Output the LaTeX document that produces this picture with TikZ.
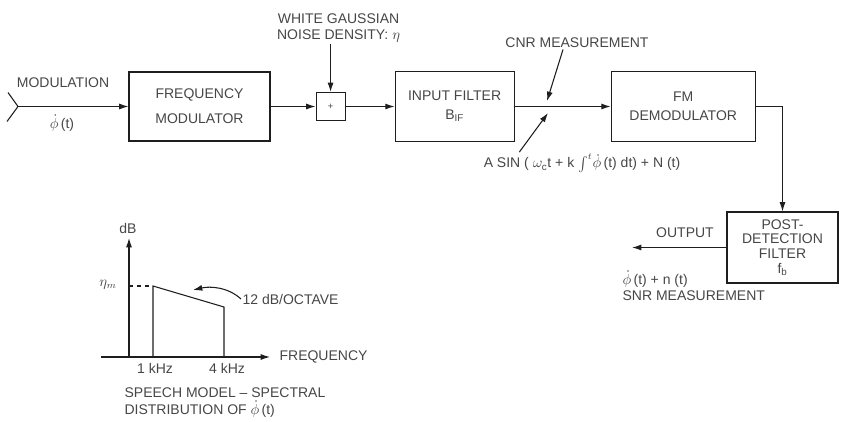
\documentclass[tikz,border=0pt]{standalone}
\usepackage{amsmath}
\usepackage{fontspec}
\setmainfont{Liberation Sans}
\usetikzlibrary{arrows.meta,positioning}
\definecolor{inkblack}{RGB}{30,30,30}
\definecolor{textgray}{RGB}{70,70,70}
\newcommand{\phidot}{$\dot{\phi}$\,(t)}

\begin{document}
\begin{tikzpicture}[
    x=0.75pt,y=-0.75pt,
    font=\fontsize{10.5}{12}\selectfont,
    box/.style={draw=inkblack,line width=0.8pt,align=center,text=textgray,inner sep=1pt},
    arrow/.style={-{Latex[length=7pt,width=4.5pt]},line width=0.8pt,draw=inkblack},
    line/.style={line width=0.8pt,draw=inkblack},
    lbl/.style={text=textgray,inner sep=1pt}
  ]
  \useasboundingbox (0,0) rectangle (845,421);

  % signal chain
  \node[box,minimum width=105.75pt,minimum height=51.75pt] (fm) at (199.5,106.5) {FREQUENCY\\[7pt]MODULATOR};
  \node[box,minimum width=21.75pt,minimum height=21pt,font=\scriptsize,right=33.75pt of fm] (sum) {+};
  \node[box,minimum width=89.25pt,minimum height=52.5pt,right=36.75pt of sum] (ifl) {INPUT FILTER\\[2pt]B$_{\text{IF}}$};
  \node[box,minimum width=108pt,minimum height=52.5pt,right=72pt of ifl] (dem) {FM\\[2pt]DEMODULATOR};
  \node[box,minimum width=83.25pt,minimum height=53.25pt] (pdf) at (782.5,247.5) {POST-\\[-1pt]DETECTION\\[-1pt]FILTER\\[-1pt]f$_{\text{b}}$};

  % input
  \coordinate (src) at (18,106.5);
  \draw[line] ([shift={(-10,-14)}]src) -- (src) -- ([shift={(-11,15)}]src);
  \node[lbl] (modlbl) at (63,83) {MODULATION};
  \node[lbl] (phiin) at (62,123) {\phidot};

  \draw[arrow] (src) -- (fm);
  \draw[arrow] (fm) -- (sum);
  \draw[arrow] (sum) -- (ifl);
  \draw[arrow] (ifl) -- (dem);
  \draw[arrow] (dem.east) -| (pdf.north);

  % noise
  \node[lbl,align=center,above=36pt of sum,xshift=6pt] (noise) {WHITE GAUSSIAN\\NOISE DENSITY: $\eta$};
  \draw[arrow] (noise.south -| sum.north) -- (sum.north);

  % CNR point
  \node[lbl] (cnr) at (577,43) {CNR MEASUREMENT};
  \coordinate (cnrhit) at (547,101);
  \draw[arrow] ([xshift=-10.5pt]cnr.south) -- (cnrhit);
  \node[lbl] (sig) at (582,163) {A SIN ( $\omega_{\text{c}}$t + k $\int^{t}\!\dot{\phi}$\,(t) dt) + N (t)};
  \coordinate (sighit) at (548,113);
  \draw[arrow] ([xshift=-47pt]sig.north) -- (sighit);

  % output
  \coordinate (out) at (632,247.5);
  \draw[arrow] (pdf.west) -- (out);
  \node[lbl] (outlbl) at (685,233) {OUTPUT};
  \node[lbl,align=left,anchor=north west] (snr) at (621,269) {\phidot{} + n (t)\\SNR MEASUREMENT};

  % speech spectrum
  \draw[arrow] (101,357) -- (270,357);
  \draw[arrow] (129,357) -- (129,238);
  \node[lbl] (db) at (128,228) {dB};
  \node[lbl] (etam) at (108,285) {$\eta_m$};
  \draw[line,dashed] (129,286) -- (153,286);
  \draw[line] (153,357) -- (153,286) -- (224,307) -- (224,357);
  \node[lbl,anchor=west] (slope) at (241,299) {12 dB/OCTAVE};
  \draw[arrow] (slope.west) .. controls (228,287) and (210,286) .. (193,290);
  \node[lbl,anchor=west] (freq) at (278,357) {FREQUENCY};
  \node[lbl] (khz1) at (155,368) {1 kHz};
  \node[lbl] (khz4) at (227,368) {4 kHz};
  \node[lbl,align=left,anchor=north west,font=\fontsize{10.5}{13}\selectfont] (caption) at (123,386) {SPEECH MODEL -- SPECTRAL\\DISTRIBUTION OF \phidot};
\end{tikzpicture}
\end{document}
